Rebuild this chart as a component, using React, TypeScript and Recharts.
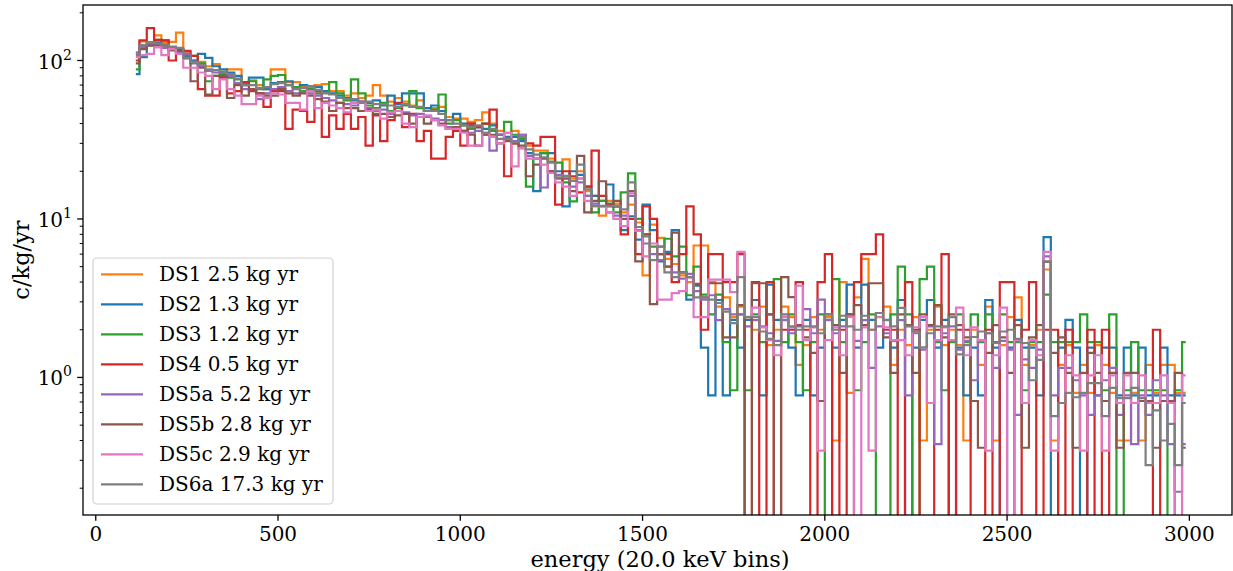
import { LineChart, Line, XAxis, YAxis } from "recharts";

const W = 1233;
const H = 571;
const PLOT = { left: 83, top: 5, right: 1232, bottom: 515 };
const FONT = "'DejaVu Serif', serif";

// bins are 20 keV wide, first bin centre at 110 keV
const FIRST_BIN = 110;
const BIN_WIDTH = 20;

const seriesNames = [
  "DS1 2.5 kg yr",
  "DS2 1.3 kg yr",
  "DS3 1.2 kg yr",
  "DS4 0.5 kg yr",
  "DS5a 5.2 kg yr",
  "DS5b 2.8 kg yr",
  "DS5c 2.9 kg yr",
  "DS6a 17.3 kg yr",
];
const seriesColors = ["#ff7f0e", "#1f77b4", "#2ca02c", "#d62728", "#9467bd", "#8c564b", "#e377c2", "#7f7f7f"];

// c/kg/yr per bin, 145 bins each
const ds1 = [
  112, 132, 128, 144, 130, 131, 150, 112, 100, 98,
  92, 95, 84, 88, 88, 72, 75, 70, 66, 88,
  88, 73, 73, 68, 67, 70, 71, 64, 64, 60,
  62, 58, 60, 70, 60, 55, 58, 55, 52, 56,
  50, 50, 51, 44, 43, 43, 41, 42, 47, 40,
  36, 35, 36, 34, 29, 27, 27, 24, 18, 23.8,
  18, 20, 15, 14, 10.5, 13, 12.5, 11, 12.3, 9.5,
  4.4, 9.2, 7.6, 5.6, 5.2, 4.4, 4.0, 6.8, 6.8, 4.0,
  2.8, 3.2, 2.4, 2.8, 2.4, 2.0, 2.8, 1.6, 2.0, 2.8,
  2.4, 1.2, 1.6, 2.4, 2.0, 2.4, 0.4, 4.0, 0.8, 3.2,
  5.6, 2.0, 2.4, 2.8, 1.2, 2.0, 1.6, 2.4, 0.4, 2.0,
  2.8, 1.6, 2.0, 1.6, 0.4, 2.0, 1.2, 2.8, 0.4, 1.6,
  2.4, 3.2, 1.2, 1.6, 2.0, 4.8, 0.4, 1.2, 1.6, 0.8,
  1.2, 0.8, 1.6, 1.2, 0.8, 0.4, 0.4, 0.8, 0.4, 1.2,
  0.8, 1.2, 1.2, 0.8, 0.8,
];
const ds2 = [
  82, 105, 125, 130, 126, 120, 118, 105, 100, 110,
  104, 92, 88, 84, 80, 70, 78, 78, 66, 72,
  73, 74, 68, 70, 69, 68, 64, 62, 60, 58,
  56, 55, 54, 56, 52, 60, 53, 62, 62, 62,
  50, 52, 48, 42, 46, 40, 39, 38, 37, 39,
  34, 33, 33, 31, 26, 15, 26, 26, 20, 12,
  20, 19, 16, 14, 13, 16.5, 12, 8.5, 10.4, 7.4,
  12.3, 8.5, 5.4, 6.2, 8.5, 4.6, 3.1, 3.8, 1.54, 0.77,
  3.08, 0.77, 2.31, 1.54, 2.31, 3.08, 0.77, 3.85, 2.31, 2.31,
  1.54, 0.77, 2.31, 0.77, 1.54, 2.31, 1.54, 2.31, 3.85, 1.54,
  3.85, 2.31, 1.54, 2.31, 1.54, 3.08, 0, 1.54, 2.31, 3.08,
  1.54, 2.31, 0, 1.54, 0.77, 1.54, 0.77, 3.08, 1.54, 0,
  1.54, 2.31, 1.54, 1.54, 0.77, 7.69, 0, 1.54, 2.31, 1.54,
  0, 1.54, 0.77, 1.54, 1.54, 0.77, 1.54, 0.77, 1.54, 0.77,
  0.77, 1.54, 0.77, 0.77, 0.77,
];
const ds3 = [
  88, 120, 130, 135, 134, 122, 118, 108, 107, 96,
  74, 80, 82, 78, 76, 72, 74, 66, 76, 80,
  81, 70, 68, 64, 66, 62, 63, 73, 62, 56,
  76, 62, 52, 50, 54, 48, 50, 52, 64, 50,
  48, 49, 61, 40, 42, 39, 37, 38, 40, 36,
  34, 41, 34, 32, 16, 24, 26, 23, 22.7, 17,
  12.9, 18, 14, 11, 13, 12.5, 11, 14.7, 19.4, 10,
  8, 6.7, 6.7, 7.5, 5.8, 6.7, 3.3, 5.0, 3.33, 2.5,
  3.33, 1.67, 0.83, 2.5, 0.83, 2.5, 1.67, 2.5, 4.17, 1.67,
  2.5, 1.67, 0.83, 1.67, 2.5, 0, 4.17, 1.67, 2.5, 0.83,
  1.67, 2.5, 0, 0, 2.5, 5.0, 2.5, 0, 4.17, 5.0,
  1.67, 0.83, 1.67, 2.5, 1.67, 2.5, 1.67, 2.5, 1.67, 2.5,
  1.67, 1.67, 0.83, 1.67, 1.67, 3.33, 1.67, 1.67, 1.67, 1.67,
  2.5, 1.67, 1.67, 0.83, 2.5, 0, 0.83, 1.67, 0.83, 0.83,
  0.83, 0.83, 0, 0.83, 1.67,
];
const ds4 = [
  100, 134, 160, 135, 134, 100, 116, 115, 107, 66,
  60, 60, 78, 62, 64, 73, 64, 62, 51, 64,
  64, 37, 49, 48, 41, 64, 33, 45, 37, 46,
  37, 44, 29, 45, 31, 42, 54, 38, 46, 31,
  36, 24, 24, 33, 36, 29, 40, 38, 40, 49,
  34, 18.6, 30, 28, 30, 29, 33, 33, 12.3, 20,
  18.6, 14.7, 16, 27, 14, 12.3, 12, 8, 10, 6,
  12, 10, 6, 6, 4, 6, 12, 8, 2, 6,
  6, 4, 4, 6, 0, 4, 0, 4, 0, 2,
  2, 4, 2, 0, 4, 6, 0, 2, 0, 4,
  6, 6, 8, 2, 2, 0, 4, 2, 0, 0,
  2, 6, 0, 2, 2, 0, 0, 2, 0, 4,
  4, 0, 2, 4, 0, 2, 2, 0, 2, 0,
  0, 2, 0, 2, 0, 0, 0, 0, 0, 0,
  2, 0, 0, 0, 0,
];
const ds5a = [
  112, 122, 126, 124, 120, 118, 113, 110, 96, 92,
  86, 84, 84, 80, 72, 66, 66, 57, 62, 66,
  68, 64, 62, 63, 62, 60, 58, 56, 54, 53,
  52, 54, 50, 48, 49, 46, 48, 47, 45, 46,
  44, 43, 42, 38, 37, 36, 35, 36, 34, 27,
  34, 32, 31, 34, 25, 24, 15.8, 20, 19, 18,
  16, 17, 14, 12.5, 12, 11, 10.5, 10.5, 14, 8.5,
  7, 6, 5.5, 5, 4.6, 4.2, 4.5, 3.5, 3.1, 3.3,
  2.3, 2.7, 2.5, 2.5, 2.1, 2.3, 2.1, 1.9, 1.7, 2.3,
  1.9, 2.1, 2.7, 1.9, 3.1, 2.3, 1.9, 2.1, 2.5, 1.7,
  2.3, 1.15, 2.1, 1.9, 1.7, 2.3, 0.77, 1.9, 1.5, 2.1,
  0.38, 1.9, 2.1, 1.5, 1.7, 0.96, 1.7, 1.9, 1.15, 1.7,
  1.5, 0.58, 1.3, 1.15, 1.5, 5.8, 0.77, 1.15, 1.15, 0.96,
  0.77, 0.58, 0.77, 0.96, 1.15, 0.58, 0.77, 0.38, 0.77, 0.58,
  0.96, 0.77, 0.38, 0.19, 0.38,
];
const ds5b = [
  96, 118, 124, 126, 124, 116, 115, 103, 74, 90,
  61, 80, 80, 58, 70, 60, 66, 62, 60, 60,
  66, 62, 60, 62, 60, 57, 55, 48, 54, 50,
  50, 48, 49, 46, 46, 44, 45, 46, 40, 44,
  40, 42, 40, 37, 38, 36, 34, 29, 34, 34,
  30, 31, 30, 29, 18.6, 22, 24, 20, 18, 18,
  15, 25, 11, 13, 17.3, 12, 13, 10, 15, 5.4,
  8, 2.9, 6, 5, 8.2, 4.6, 4.3, 3.9, 3.2, 3.93,
  3.93, 1.79, 1.79, 2.86, 0, 3.93, 3.93, 2.5, 0, 4.29,
  3.21, 2.14, 1.79, 1.43, 0.71, 2.5, 2.14, 1.07, 2.5, 2.86,
  2.14, 3.93, 3.93, 1.79, 1.07, 2.5, 2.14, 1.07, 2.5, 2.14,
  2.86, 1.79, 2.5, 2.14, 1.79, 0.71, 0.36, 1.43, 2.14, 1.79,
  1.07, 2.14, 0.36, 1.79, 2.14, 5.36, 1.43, 1.79, 1.07, 0.36,
  1.07, 1.43, 1.07, 0.71, 1.07, 0.36, 1.07, 1.07, 0.71, 0.71,
  0.36, 0.71, 0.71, 1.07, 0.36,
];
const ds5c = [
  105, 108, 110, 121, 108, 118, 110, 90, 90, 84,
  80, 66, 76, 66, 60, 53, 53, 60, 58, 62,
  61, 54, 54, 49, 64, 50, 54, 52, 50, 47,
  54, 55, 48, 49, 43, 47, 48, 40, 38, 44,
  45, 42, 39, 37, 37, 35, 29, 29, 35, 33,
  30, 35, 21.5, 28, 24, 24, 22, 19.5, 17, 16,
  14, 18, 13, 12, 12, 11, 10, 9, 14.5, 8.4,
  5.8, 7, 3.1, 3.1, 3.4, 3.5, 4.3, 2.4, 2.4, 4.14,
  4.14, 4.14, 3.45, 6.2, 2.41, 2.76, 2.07, 1.72, 1.38, 2.41,
  2.07, 3.79, 1.72, 2.07, 0.345, 1.72, 2.07, 1.38, 2.41, 0,
  2.07, 0.345, 2.41, 2.07, 1.72, 1.72, 1.38, 2.07, 2.41, 0.69,
  1.72, 2.07, 1.72, 2.76, 1.38, 2.07, 1.72, 0.345, 1.38, 2.76,
  0, 1.72, 0.69, 1.72, 1.38, 6.2, 0.345, 0.69, 1.38, 1.03,
  0.345, 1.03, 1.38, 0.345, 1.03, 0.69, 1.03, 0.69, 1.03, 0.69,
  0.69, 1.03, 0.69, 0, 1.03,
];
const ds6a = [
  108, 125, 130, 128, 126, 122, 120, 104, 98, 94,
  88, 87, 85, 82, 77, 70, 70, 67, 68, 71,
  72, 70, 66, 67, 69, 65, 62, 61, 58, 57,
  57, 55, 55, 53, 53, 52, 51, 53, 51, 51,
  48, 48, 46, 42, 40, 39, 38, 39, 35, 37,
  32, 32, 30.5, 33, 27.5, 25.5, 24.5, 22.7, 18.3, 18.7,
  17.4, 22, 15.4, 12.1, 12.1, 12.1, 12.1, 11.5, 17, 8.9,
  7.75, 5.5, 6.7, 4.6, 4.3, 4.6, 4.3, 3.2, 3.2, 3.1,
  2.95, 2.6, 2.2, 4.3, 2.4, 2.4, 1.95, 1.75, 1.6, 2.5,
  2.1, 2.0, 2.1, 2.1, 1.9, 2.5, 2.0, 2.45, 2.1, 2.0,
  2.45, 2.0, 2.55, 2.3, 2.1, 2.75, 2.1, 1.95, 1.55, 1.9,
  2.1, 2.1, 2.4, 1.4, 1.6, 1.8, 1.95, 1.9, 1.65, 1.95,
  2.0, 1.75, 1.65, 0.96, 1.29, 5.4, 0.57, 0.69, 0.8, 0.75,
  0.8, 0.92, 0.92, 0.57, 0.86, 0.74, 0.74, 0.86, 0.74, 0.28,
  0.62, 0.4, 0.51, 0.28, 0.69,
];

const allSeries = [ds1, ds2, ds3, ds4, ds5a, ds5b, ds5c, ds6a];
const keys = ["ds1", "ds2", "ds3", "ds4", "ds5a", "ds5b", "ds5c", "ds6a"];

const xTicks = [0, 500, 1000, 1500, 2000, 2500, 3000];
const yMajor = [1, 10, 100];
const yMinor = [0.2, 0.3, 0.4, 0.5, 0.6, 0.7, 0.8, 0.9, 2, 3, 4, 5, 6, 7, 8, 9, 20, 30, 40, 50, 60, 70, 80, 90, 200];

// empty bins go to -inf on a log axis; park them below the visible range
const EMPTY = 0.01;

const rows = ds1.map((_, i) => {
  const r: Record<string, number> = { energy: FIRST_BIN + BIN_WIDTH * i };
  keys.forEach((k, s) => {
    const v = allSeries[s][i];
    r[k] = v > 0 ? v : EMPTY;
  });
  return r;
});

function XTick(props: any) {
  const { x, payload } = props;
  return (
    <g>
      <line x1={x} x2={x} y1={PLOT.bottom} y2={PLOT.bottom + 5.8} stroke="#000" strokeWidth={1.3} />
      <text x={x} y={PLOT.bottom + 26} textAnchor="middle" fontSize={20} fontFamily={FONT} fill="#000">
        {payload.value}
      </text>
    </g>
  );
}

function YTick(props: any) {
  const { y, payload } = props;
  const v = payload.value;
  const major = yMajor.includes(v);
  const len = major ? 5.8 : 3.3;
  return (
    <g>
      <line x1={PLOT.left - len} x2={PLOT.left} y1={y} y2={y} stroke="#000" strokeWidth={major ? 1.3 : 1} />
      {major && (
        <text x={PLOT.left - 11} y={y + 8} textAnchor="end" fontSize={20} fontFamily={FONT} fill="#000">
          10
          <tspan dy={-9} fontSize={14}>
            {Math.round(Math.log10(v))}
          </tspan>
        </text>
      )}
    </g>
  );
}

export default function App() {
  const legendTop = 258;
  return (
    <div style={{ position: "absolute", left: 0, top: 0, width: W, height: H, background: "#fff", overflow: "hidden" }}>
      <LineChart width={W} height={H} data={rows} margin={{ top: PLOT.top, right: W - PLOT.right, bottom: 0, left: 0 }}>
        <XAxis
          dataKey="energy"
          type="number"
          domain={[-35, 3117]}
          allowDataOverflow
          ticks={xTicks}
          interval={0}
          height={H - PLOT.bottom}
          axisLine={false}
          tickLine={false}
          tick={(p: any) => <XTick {...p} />}
        />
        <YAxis
          type="number"
          scale="log"
          domain={[0.1355, 224]}
          allowDataOverflow
          ticks={[...yMinor, ...yMajor].sort((a, b) => a - b)}
          interval={0}
          width={PLOT.left}
          axisLine={false}
          tickLine={false}
          tick={(p: any) => <YTick {...p} />}
        />
        {keys.map((k, s) => (
          <Line
            key={k}
            dataKey={k}
            name={seriesNames[s]}
            type="step"
            stroke={seriesColors[s]}
            strokeWidth={2.2}
            dot={false}
            activeDot={false}
            isAnimationActive={false}
          />
        ))}
      </LineChart>
      <svg width={W} height={H} style={{ position: "absolute", left: 0, top: 0, pointerEvents: "none" }}>
        <rect
          x={PLOT.left}
          y={PLOT.top}
          width={PLOT.right - PLOT.left}
          height={PLOT.bottom - PLOT.top}
          fill="none"
          stroke="#000"
          strokeWidth={1.3}
        />
        <rect x={93} y={legendTop} width={240} height={246} rx={4} fill="rgba(255,255,255,0.8)" stroke="#d0d0d0" strokeWidth={1.2} />
        {seriesNames.map((name, s) => {
          const cy = legendTop + 16.3 + 30 * s;
          return (
            <g key={name}>
              <line x1={101} x2={143} y1={cy} y2={cy} stroke={seriesColors[s]} strokeWidth={2.2} />
              <text x={159} y={cy + 7} fontSize={20} fontFamily={FONT} fill="#000">
                {name}
              </text>
            </g>
          );
        })}
        <text x={660} y={567} textAnchor="middle" fontSize={22.5} fontFamily={FONT} fill="#000">
          energy (20.0 keV bins)
        </text>
        <text
          x={0}
          y={0}
          transform="translate(29, 260) rotate(-90)"
          textAnchor="middle"
          fontSize={22.5}
          fontFamily={FONT}
          fill="#000"
        >
          c/kg/yr
        </text>
      </svg>
    </div>
  );
}
